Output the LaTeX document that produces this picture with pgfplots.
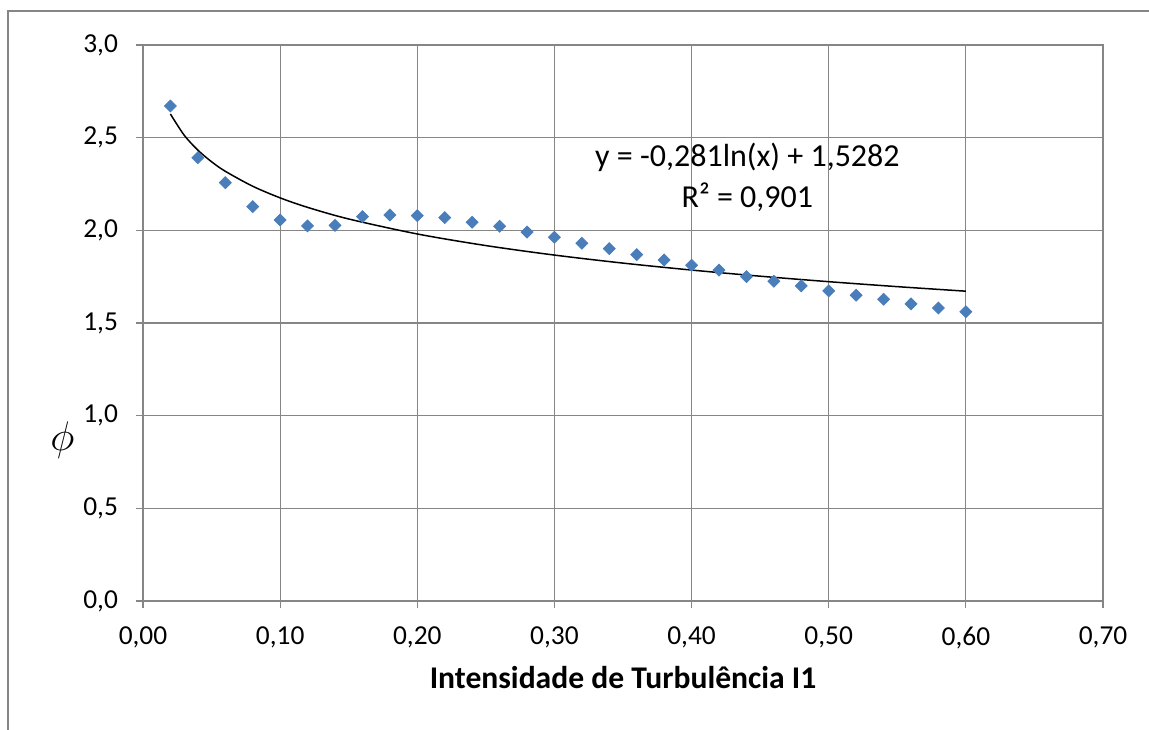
\documentclass[border=0pt]{standalone}
\usepackage{fontspec}
\setmainfont{Carlito}
\usepackage{pgfplots}
\pgfplotsset{compat=1.18}
\usepackage{pgfplotstable}
\usetikzlibrary{calc}

\definecolor{gridgray}{RGB}{134,134,134}
\definecolor{ptblue}{RGB}{74,126,187}

% phi vs turbulence intensity
\pgfplotstableread{
x y
0.02 2.671
0.04 2.392
0.06 2.257
0.08 2.128
0.10 2.056
0.12 2.024
0.14 2.027
0.16 2.074
0.18 2.083
0.20 2.079
0.22 2.069
0.24 2.044
0.26 2.022
0.28 1.991
0.30 1.963
0.32 1.930
0.34 1.901
0.36 1.869
0.38 1.840
0.40 1.812
0.42 1.785
0.44 1.750
0.46 1.725
0.48 1.700
0.50 1.673
0.52 1.650
0.54 1.628
0.56 1.603
0.58 1.581
0.60 1.561
}\dataphi

% log trend line, y = -0.281 ln(x) + 1.5282, evaluated by hand
\pgfplotstableread{
x y
0.02 2.6275
0.03 2.5136
0.04 2.4327
0.05 2.3700
0.06 2.3187
0.08 2.2379
0.10 2.1752
0.12 2.1240
0.15 2.0613
0.20 1.9804
0.25 1.9178
0.30 1.8665
0.35 1.8232
0.40 1.7857
0.45 1.7526
0.50 1.7230
0.55 1.6962
0.60 1.6717
}\trend

\begin{document}
\begin{tikzpicture}
  \begin{axis}[
      name=a,
      width=480pt, height=278pt,
      scale only axis,
      xmin=0, xmax=0.7,
      ymin=0, ymax=3,
      xtick={0,0.1,0.2,0.3,0.4,0.5,0.6,0.7},
      ytick={0,0.5,1,1.5,2,2.5,3},
      grid=major,
      grid style={gridgray, line width=0.6pt},
      axis line style={gridgray, line width=0.6pt},
      tick style={gridgray, line width=0.6pt},
      tick align=outside,
      major tick length=3.5pt,
      xtick pos=bottom, ytick pos=left,
      /pgf/number format/assume math mode=true,
      /pgf/number format/use comma,
      /pgf/number format/fixed,
      /pgf/number format/fixed zerofill,
      xticklabel style={/pgf/number format/precision=2, font=\fontsize{13.7}{16}\selectfont, yshift=-6pt},
      yticklabel style={/pgf/number format/precision=1, font=\fontsize{13.7}{16}\selectfont, xshift=-5.5pt},
      xlabel={Intensidade de Turbulência I1},
      xlabel style={font=\fontsize{15.8}{18}\selectfont\bfseries, at={(axis description cs:0.5,-0.137)}, anchor=center},
      ylabel={$\phi$},
      ylabel style={font=\fontsize{20}{22}\selectfont, rotate=-90, at={(axis description cs:-0.084,0.29)}, anchor=center},
    ]
    \addplot[black, line width=0.75pt, smooth, no marks] table[x=x, y=y] {\trend};
    \addplot[only marks, mark=square*, mark size=2.1pt, mark options={rotate=45, fill=ptblue, draw=ptblue}] table[x=x, y=y] {\dataphi};
    \node[font=\fontsize{16}{19}\selectfont] at (axis cs:0.4407,2.396) {y = -0,281ln(x) + 1,5282};
    \node[font=\fontsize{16}{19}\selectfont] at (axis cs:0.4407,2.18) {R² = 0,901};
  \end{axis}
  \pgfresetboundingbox
  \path[use as bounding box] ($(a.south west)+(-71.5pt,-64pt)$) rectangle ($(a.north east)+(23pt,22.5pt)$);
  \draw[gridgray, line width=0.6pt] ($(a.south west)+(-67.5pt,-80pt)$) |- ($(a.north east)+(40pt,17pt)$);
\end{tikzpicture}
\end{document}
